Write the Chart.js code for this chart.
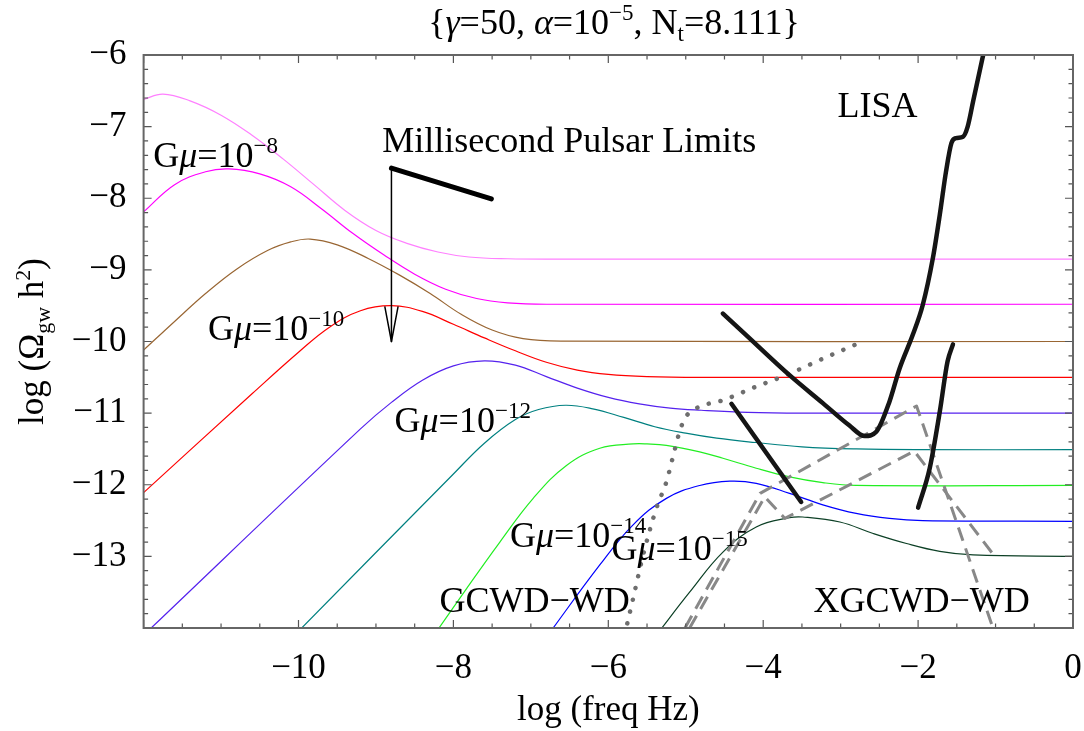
<!DOCTYPE html>
<html>
<head>
<meta charset="utf-8">
<script src="https://cdn.jsdelivr.net/npm/chart.js@4.4.1/dist/chart.umd.min.js"></script>
<style>
  html, body { margin: 0; padding: 0; background: #fff; }
</style>
</head>
<body>
<canvas id="gwChart" width="1084" height="731"></canvas>
<script>
var FONT = "'Liberation Serif', 'Times New Roman', serif";
var MINUS = '\u2212';

// string spectra, log(freq Hz) vs log(Omega_gw h^2), one pair per G mu
var gmu7X = [-12, -11.75, -11.4, -11.0, -10.6, -10.2, -9.8, -9.4, -9.0, -8.6, -8.2, -7.8, -7.3, -6.6, 0];
var gmu7Y = [-6.62, -6.545, -6.64, -6.84, -7.12, -7.45, -7.81, -8.17, -8.45, -8.63, -8.75, -8.82, -8.845, -8.85, -8.85];
var gmu8X = [-12, -11.6, -11.2, -10.9, -10.5, -10.1, -9.7, -9.3, -8.9, -8.5, -8.1, -7.7, -7.3, -6.8, 0];
var gmu8Y = [-8.19, -7.81, -7.63, -7.59, -7.66, -7.84, -8.15, -8.49, -8.79, -9.06, -9.27, -9.40, -9.46, -9.48, -9.48];
var gmu9X = [-12, -11.6, -11.2, -10.8, -10.4, -10.1, -9.85, -9.5, -9.1, -8.7, -8.3, -7.9, -7.5, -7.1, -6.6, 0];
var gmu9Y = [-10.12, -9.72, -9.33, -8.99, -8.73, -8.61, -8.57, -8.65, -8.84, -9.07, -9.33, -9.62, -9.84, -9.96, -9.995, -10.0];
var gmu10X = [-12, -10.6, -10.0, -9.6, -9.2, -8.8, -8.4, -8.0, -7.6, -7.2, -6.8, -6.4, -6.0, -5.5, -4.8, 0];
var gmu10Y = [-12.11, -10.73, -10.15, -9.80, -9.57, -9.50, -9.58, -9.76, -9.95, -10.13, -10.29, -10.40, -10.46, -10.49, -10.5, -10.5];
var gmu11X = [-12, -9.2, -8.8, -8.4, -8.0, -7.6, -7.2, -6.8, -6.4, -6.0, -5.6, -5.2, -4.8, -4.2, -3.5, 0];
var gmu11Y = [-14.10, -11.22, -10.85, -10.54, -10.34, -10.27, -10.33, -10.49, -10.65, -10.78, -10.87, -10.93, -10.96, -10.99, -11.0, -11.0];
var gmu12X = [-10.05, -8.0, -7.6, -7.2, -6.9, -6.55, -6.2, -5.8, -5.4, -5.0, -4.6, -4.1, -3.5, -2.8, -2.0, 0];
var gmu12Y = [-14.1, -11.85, -11.42, -11.09, -10.95, -10.89, -10.94, -11.06, -11.19, -11.28, -11.35, -11.41, -11.47, -11.50, -11.51, -11.51];
var gmu13X = [-8.25, -7.83, -7.40, -6.97, -6.54, -6.11, -5.68, -5.5, -5.25, -4.82, -4.52, -4.09, -3.66, -3.23, -2.80, 0];
var gmu13Y = [-14.1, -13.45, -12.80, -12.19, -11.73, -11.49, -11.43, -11.43, -11.45, -11.54, -11.63, -11.77, -11.89, -11.97, -12.01, -12.01];
var gmu14X = [-6.78, -6.11, -5.68, -5.25, -4.82, -4.43, -4.09, -3.66, -3.23, -2.80, -2.37, -1.94, 0];
var gmu14Y = [-14.1, -13.12, -12.56, -12.19, -12.01, -11.95, -11.98, -12.12, -12.28, -12.40, -12.47, -12.50, -12.51];
var gmu15X = [-5.38, -4.95, -4.52, -4.09, -3.66, -3.49, -3.01, -2.58, -2.15, -1.72, -1.29, 0];
var gmu15Y = [-14.1, -13.50, -12.94, -12.59, -12.46, -12.45, -12.52, -12.68, -12.82, -12.93, -12.98, -13.0];

// detector / pulsar curves
var pulsarX = [-8.80, -7.51];
var pulsarY = [-7.58, -8.01];
var arrowX = [-8.80, -8.80];
var arrowY = [-7.58, -10.0];
var headX = [-8.886, -8.80, -8.714];
var headY = [-9.51, -10.0, -9.51];
var lisaX = [-4.52, -4.22, -3.66, -3.23, -2.89, -2.69, -2.54, -2.37, -2.24, -2.07, -1.94, -1.81, -1.72, -1.64, -1.57, -1.51, -1.42, -1.36, -1.29, -1.16];
var lisaY = [-9.61, -9.91, -10.47, -10.86, -11.17, -11.32, -11.26, -10.84, -10.38, -9.91, -9.49, -8.84, -8.23, -7.63, -7.23, -7.16, -7.14, -7.0, -6.65, -6.0];
var midX = [-4.41, -3.51];
var midY = [-10.87, -12.24];
var rightX = [-2.0, -1.85, -1.72, -1.62, -1.55];
var rightY = [-12.32, -11.77, -10.98, -10.28, -10.04];

// white dwarf backgrounds
var gcwdX = [-5.79, -5.68, -5.55, -5.38, -5.25, -5.17, -5.08, -5.01, -4.86, -4.52, -4.09, -3.66, -3.23, -2.78];
var gcwdY = [-14.1, -13.59, -12.98, -12.33, -11.96, -11.63, -11.26, -11.07, -10.93, -10.82, -10.63, -10.45, -10.24, -10.03];
var xgc1X = [-5.01, -4.04, -2.02, -1.04];
var xgc1Y = [-14, -12.12, -10.90, -13.98];
var xgc2X = [-4.95, -3.98, -3.72, -2.05, -1.01];
var xgc2Y = [-14, -12.17, -12.47, -11.53, -13.0];

// text inside the frame, anchored at left/baseline in data units
var notes = [
  { x: -11.876, y: -7.56, parts: [['G'], ['\u03bc', 'i'], ['=10'], [MINUS + '8', 'sup']] },
  { x: -11.17, y: -9.98, parts: [['G'], ['\u03bc', 'i'], ['=10'], [MINUS + '10', 'sup']] },
  { x: -8.76, y: -11.26, parts: [['G'], ['\u03bc', 'i'], ['=10'], [MINUS + '12', 'sup']] },
  { x: -7.27, y: -12.87, parts: [['G'], ['\u03bc', 'i'], ['=10'], [MINUS + '14', 'sup']] },
  { x: -5.96, y: -13.05, parts: [['G'], ['\u03bc', 'i'], ['=10'], [MINUS + '15', 'sup']] },
  { x: -8.92, y: -7.35, parts: [['Millisecond Pulsar Limits']] },
  { x: -3.04, y: -6.86, parts: [['LISA']] },
  { x: -8.18, y: -13.775, parts: [['GCWD' + MINUS + 'WD']] },
  { x: -3.35, y: -13.775, parts: [['XGCWD' + MINUS + 'WD']] }
];

var titleParts = [['{'], ['\u03b3', 'i'], ['=50, '], ['\u03b1', 'i'], ['=10'], [MINUS + '5', 'sup'], [', N'], ['t', 'sub'], ['=8.111}']];
var xTitleParts = [['log (freq Hz)']];
var yTitleParts = [['log (\u03a9'], ['gw', 'sub'], [' h'], ['2', 'sup'], [')']];

function series(xs, ys) {
  var out = [];
  for (var i = 0; i < xs.length; i++) out.push({ x: xs[i], y: ys[i] });
  return out;
}

function lineSet(xs, ys, style) {
  var base = { data: series(xs, ys), pointRadius: 0, pointHoverRadius: 0, fill: false,
    borderJoinStyle: 'round', tension: 0 };
  for (var k in style) base[k] = style[k];
  return base;
}

function fmt(v) {
  return v < 0 ? MINUS + Math.abs(v) : String(v);
}

function drawRich(ctx, parts, x, y, size, align) {
  var items = [], w = 0;
  parts.forEach(function (p) {
    var kind = p[1] || '';
    var small = kind === 'sup' || kind === 'sub';
    var fs = small ? Math.round(size * 0.63) : size;
    var font = (kind === 'i' ? 'italic ' : '') + fs + 'px ' + FONT;
    ctx.font = font;
    var tw = ctx.measureText(p[0]).width;
    var dy = kind === 'sup' ? -size * 0.38 : (kind === 'sub' ? size * 0.2 : 0);
    items.push({ t: p[0], font: font, w: tw, dy: dy });
    w += tw;
  });
  var cx = align === 'center' ? x - w / 2 : x;
  ctx.textAlign = 'left';
  ctx.textBaseline = 'alphabetic';
  items.forEach(function (it) {
    ctx.font = it.font;
    ctx.fillText(it.t, cx, y + it.dy);
    cx += it.w;
  });
}

function curve(xs, ys, color) {
  return lineSet(xs, ys, { borderColor: color, borderWidth: 1.2, tension: 0.4, order: 3 });
}

var datasets = [
  lineSet(pulsarX, pulsarY, { borderColor: '#000', borderWidth: 5, borderCapStyle: 'round', order: 0 }),
  lineSet(arrowX, arrowY, { borderColor: '#000', borderWidth: 1.5, order: 0 }),
  lineSet(headX, headY, { borderColor: '#000', borderWidth: 1.5, order: 0 }),
  lineSet(lisaX, lisaY, { borderColor: '#151515', borderWidth: 4.5, borderCapStyle: 'round', cubicInterpolationMode: 'monotone', order: 0 }),
  lineSet(midX, midY, { borderColor: '#151515', borderWidth: 4.5, borderCapStyle: 'round', order: 0 }),
  lineSet(rightX, rightY, { borderColor: '#151515', borderWidth: 4.5, borderCapStyle: 'round', cubicInterpolationMode: 'monotone', order: 0 }),
  lineSet(gcwdX, gcwdY, { borderColor: '#6e6e6e', borderWidth: 4.5, borderDash: [0.1, 12], borderCapStyle: 'round', cubicInterpolationMode: 'monotone', order: 1 }),
  lineSet(xgc1X, xgc1Y, { borderColor: '#888', borderWidth: 3, borderDash: [14, 8], order: 1 }),
  lineSet(xgc2X, xgc2Y, { borderColor: '#888', borderWidth: 3, borderDash: [14, 8], order: 1 }),
  curve(gmu7X, gmu7Y, '#ff80ff'),
  curve(gmu8X, gmu8Y, '#ff00ff'),
  curve(gmu9X, gmu9Y, '#996633'),
  curve(gmu10X, gmu10Y, '#ff0000'),
  curve(gmu11X, gmu11Y, '#5522ee'),
  curve(gmu12X, gmu12Y, '#008080'),
  curve(gmu13X, gmu13Y, '#22ee22'),
  curve(gmu14X, gmu14Y, '#0000ff'),
  curve(gmu15X, gmu15Y, '#0d4026')
];

// inward ticks on all four sides plus the gray frame
var frameTicks = {
  id: 'frameTicks',
  afterDatasetsDraw: function (chart) {
    var ctx = chart.ctx, a = chart.chartArea, sx = chart.scales.x, sy = chart.scales.y;
    ctx.save();
    ctx.strokeStyle = '#555';
    ctx.lineWidth = 1.2;
    ctx.beginPath();
    var i, p, len;
    for (i = 0; i <= 24; i++) {
      p = sx.getPixelForValue(-12 + i * 0.5);
      len = (i % 4 === 0) ? 8 : 4.5;
      ctx.moveTo(p, a.bottom); ctx.lineTo(p, a.bottom - len);
      ctx.moveTo(p, a.top); ctx.lineTo(p, a.top + len);
    }
    for (i = 0; i <= 40; i++) {
      p = sy.getPixelForValue(-14 + i * 0.2);
      len = (i % 5 === 0) ? 8 : 4.5;
      ctx.moveTo(a.left, p); ctx.lineTo(a.left + len, p);
      ctx.moveTo(a.right, p); ctx.lineTo(a.right - len, p);
    }
    ctx.stroke();
    ctx.lineWidth = 2;
    ctx.strokeStyle = '#666';
    ctx.strokeRect(a.left, a.top, a.right - a.left, a.bottom - a.top);
    ctx.restore();
  },
  afterDraw: function (chart) {
    var ctx = chart.ctx, a = chart.chartArea, sx = chart.scales.x, sy = chart.scales.y;
    ctx.save();
    ctx.fillStyle = '#000';
    notes.forEach(function (n) {
      drawRich(ctx, n.parts, sx.getPixelForValue(n.x), sy.getPixelForValue(n.y), 36, 'left');
    });
    drawRich(ctx, titleParts, 614, 34, 36, 'center');
    drawRich(ctx, xTitleParts, (a.left + a.right) / 2, 720, 35, 'center');
    ctx.translate(43, (a.top + a.bottom) / 2);
    ctx.rotate(-Math.PI / 2);
    drawRich(ctx, yTitleParts, 0, 0, 35, 'center');
    ctx.restore();
  }
};

function noPad(s) {
  s.paddingLeft = 0; s.paddingRight = 0; s.paddingTop = 0; s.paddingBottom = 0;
}

var ctx = document.getElementById('gwChart');
var gwChart = new Chart(ctx, {
  type: 'line',
  data: { datasets: datasets },
  options: {
    responsive: false,
    animation: false,
    devicePixelRatio: 1,
    layout: { padding: { top: 55, right: 11, left: 0, bottom: 0 } },
    plugins: { legend: { display: false }, tooltip: { enabled: false }, title: { display: false } },
    scales: {
      x: {
        type: 'linear', min: -12, max: 0,
        border: { display: false },
        grid: { display: false, drawTicks: false },
        ticks: {
          stepSize: 2, autoSkip: false, maxRotation: 0, padding: 20, color: '#000',
          font: { family: FONT, size: 35 },
          callback: function (v) { return v === -12 ? '' : fmt(v); }
        },
        afterFit: function (s) { s.height = 103; noPad(s); }
      },
      y: {
        type: 'linear', min: -14, max: -6,
        border: { display: false },
        grid: { display: false, drawTicks: false },
        ticks: {
          stepSize: 1, autoSkip: false, padding: 17, color: '#000',
          font: { family: FONT, size: 35 },
          callback: function (v) { return v === -14 ? '' : fmt(v); }
        },
        afterFit: function (s) { s.width = 143.6; noPad(s); }
      }
    }
  },
  plugins: [frameTicks]
});
</script>
</body>
</html>
